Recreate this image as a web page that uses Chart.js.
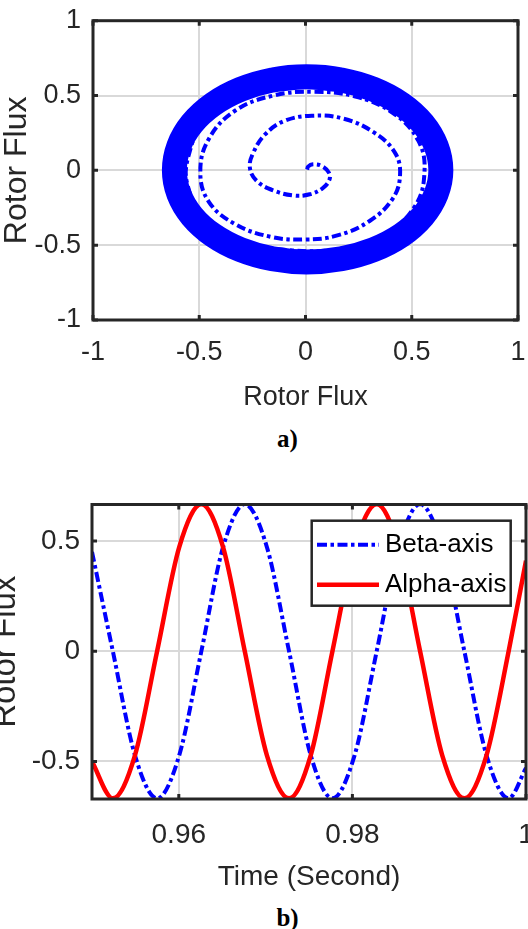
<!DOCTYPE html>
<html><head><meta charset="utf-8">
<script src="https://cdn.jsdelivr.net/npm/chart.js@4.4.1/dist/chart.umd.min.js"></script>
<style>
html,body{margin:0;padding:0;background:#fff;width:528px;height:929px;overflow:hidden;}
canvas{position:absolute;left:0;}
#c1{top:0;}
#c2{top:460px;}
.cap{position:absolute;left:237.5px;width:100px;text-align:center;font-weight:bold;font-size:25px;font-family:"Liberation Serif","Times New Roman",serif;line-height:25px;color:#000;}
</style></head><body>
<canvas id="c1" width="528" height="420"></canvas>
<canvas id="c2" width="528" height="440"></canvas>
<div class="cap" style="top:425.5px">a)</div>
<div class="cap" style="top:904.5px">b)</div>
<script>
// ---------- data (a): rotor flux locus ----------
const fluxTickValues = [-1, -0.5, 0, 0.5, 1];
const fluxTickLabels = ['-1', '-0.5', '0', '0.5', '1'];
// transient spiral (alpha, beta)
const spiralX = [0.008, 0.012, 0.035, 0.075, 0.110, 0.112, 0.080, 0.020, -0.055, -0.150, -0.230, -0.262, -0.245, -0.190, -0.100, 0.030, 0.180, 0.320, 0.420, 0.445, 0.410, 0.300, 0.150, 0.000, -0.160, -0.330, -0.455, -0.495, -0.455, -0.330, -0.150, 0.040, 0.230, 0.410, 0.530, 0.560, 0.515, 0.370, 0.160, -0.060, -0.280, -0.470, -0.555, -0.550, -0.470, -0.290, -0.080, 0.150];
const spiralY = [0.005, 0.025, 0.040, 0.030, -0.015, -0.065, -0.120, -0.160, -0.168, -0.135, -0.070, 0.020, 0.120, 0.240, 0.330, 0.365, 0.345, 0.255, 0.120, -0.030, -0.190, -0.340, -0.435, -0.462, -0.445, -0.360, -0.210, -0.010, 0.210, 0.400, 0.500, 0.525, 0.495, 0.385, 0.200, -0.010, -0.240, -0.430, -0.525, -0.535, -0.480, -0.320, -0.100, 0.100, 0.340, 0.500, 0.555, 0.550];
// steady-state orbit (dense band)
const orbitX = [-0.156, 0.005, 0.169, 0.321, 0.452, 0.552, 0.615, 0.637, 0.615, 0.552, 0.452, 0.321, 0.169, 0.005, -0.156, -0.306, -0.435, -0.534, -0.596, -0.617, -0.596, -0.534, -0.435, -0.306, -0.156, 0.005, 0.169];
const orbitY = [0.604, 0.625, 0.604, 0.541, 0.442, 0.313, 0.162, 0.000, -0.158, -0.306, -0.433, -0.530, -0.591, -0.612, -0.591, -0.530, -0.433, -0.306, -0.158, 0.000, 0.162, 0.313, 0.442, 0.541, 0.604, 0.625, 0.604];

// ---------- data (b): rotor flux vs time ----------
const timeSec = [0.95, 0.9524, 0.95495, 0.9575, 0.96005, 0.9626, 0.9651, 0.9676, 0.97015, 0.9727, 0.9752, 0.9777, 0.98025, 0.9828, 0.9853, 0.9878, 0.99035, 0.9929, 0.99545, 0.998, 1.0];
const betaFlux = [0.45, 0, -0.472, -0.667, -0.472, 0, 0.472, 0.667, 0.472, 0, -0.472, -0.667, -0.472, 0, 0.472, 0.667, 0.472, 0, -0.472, -0.667, -0.53];
const alphaFlux = [-0.50, -0.667, -0.472, 0, 0.472, 0.667, 0.472, 0, -0.472, -0.667, -0.472, 0, 0.472, 0.667, 0.472, 0, -0.472, -0.667, -0.472, 0, 0.41];
const timeTickValues = [0.96, 0.98, 1];
const timeTickLabels = ['0.96', '0.98', '1'];
const fluxTickValuesB = [-0.5, 0, 0.5];
const fluxTickLabelsB = ['-0.5', '0', '0.5'];
const seriesNames = ['Beta-axis', 'Alpha-axis'];
const axisTitleFlux = 'Rotor Flux';
const axisTitleTime = 'Time (Second)';

// ---------- helpers ----------
const pts = (xs, ys) => xs.map((x, i) => ({x: x, y: ys[i]}));
const INK = '#262626';
const SANS = "'Liberation Sans', Arial, sans-serif";
const BLUE = '#0000ff';
const RED = '#ff0000';
const DASHDOT = [10, 3.5, 3.5, 3.5];

const framePlugin = {
  id: 'frame',
  afterDatasetsDraw(chart, args, opts) {
    const {ctx, chartArea: a, scales} = chart;
    ctx.save();
    ctx.strokeStyle = INK;
    ctx.lineWidth = 3;
    ctx.lineCap = 'butt';
    ctx.setLineDash([]);
    const L = 5;
    ctx.beginPath();
    scales.x.ticks.forEach(t => {
      const p = scales.x.getPixelForValue(t.value);
      ctx.moveTo(p, a.bottom); ctx.lineTo(p, a.bottom - L);
      ctx.moveTo(p, a.top); ctx.lineTo(p, a.top + L);
    });
    scales.y.ticks.forEach(t => {
      const p = scales.y.getPixelForValue(t.value);
      ctx.moveTo(a.left, p); ctx.lineTo(a.left + L, p);
      ctx.moveTo(a.right, p); ctx.lineTo(a.right - L, p);
    });
    ctx.stroke();
    ctx.strokeRect(a.left, a.top, a.right - a.left, a.bottom - a.top);
    if (opts && opts.legendBox && chart.legend) {
      const lg = chart.legend;
      const b = opts.legendBox;
      ctx.fillStyle = '#fff';
      ctx.fillRect(lg.left, lg.top, b.w, b.h);
      ctx.lineWidth = 2.5;
      ctx.strokeStyle = INK;
      ctx.strokeRect(lg.left, lg.top, b.w, b.h);
      chart.data.datasets.forEach((ds, i) => {
        const y = lg.top + b.firstRow + i * b.rowGap;
        ctx.beginPath();
        ctx.strokeStyle = ds.borderColor;
        ctx.lineWidth = ds.borderWidth;
        ctx.setLineDash(ds.borderDash || []);
        ctx.moveTo(lg.left + b.x0, y);
        ctx.lineTo(lg.left + b.x1, y);
        ctx.stroke();
      });
    }
    ctx.restore();
  }
};

const legendPlace = {
  id: 'legendPlace',
  afterInit(chart) {
    const lg = chart.legend;
    if (lg) lg._layers = () => [{z: 10, draw: (ca) => lg.draw(ca)}];
  },
  afterLayout(chart, args, opts) {
    const lg = chart.legend;
    if (lg && opts && opts.left !== undefined) { lg.left = opts.left; lg.top = opts.top; }
  }
};

function makeScale(cfg) {
  return {
    type: 'linear',
    min: cfg.min, max: cfg.max,
    afterBuildTicks: s => { s.ticks = cfg.values.map(v => ({value: v})); },
    afterFit: s => {
      if (cfg.width !== undefined) s.width = cfg.width;
      if (cfg.height !== undefined) s.height = cfg.height;
      s.paddingLeft = 0; s.paddingRight = 0; s.paddingTop = 0; s.paddingBottom = 0;
    },
    grid: {color: '#d9d9d9', lineWidth: 2, drawTicks: false},
    border: {display: false},
    ticks: {
      padding: cfg.pad, color: INK, autoSkip: false, maxRotation: 0, minRotation: 0,
      font: {family: cfg.tickFamily, size: cfg.tickSize, lineHeight: 1},
      callback: (v, i) => cfg.labels[i]
    },
    title: {
      display: true, text: cfg.title, color: INK,
      font: {family: cfg.titleFamily, size: cfg.titleSize, lineHeight: 1},
      padding: cfg.titlePad
    }
  };
}

// ---------- chart (a) ----------
new Chart(document.getElementById('c1'), {
  type: 'scatter',
  data: {
    datasets: [
      {label: 'transient', data: pts(spiralX, spiralY), showLine: true, borderColor: BLUE, borderWidth: 4,
       borderDash: [9, 3.5, 3.5, 3.5], tension: 0.4, pointRadius: 0, fill: false},
      {label: 'steady', data: pts(orbitX, orbitY), showLine: true, borderColor: BLUE, borderWidth: 25,
       tension: 0.35, pointRadius: 0, fill: false}
    ]
  },
  options: {
    responsive: false, animation: false, devicePixelRatio: 1, events: [],
    layout: {padding: {left: 0, top: 20.7, right: 10, bottom: 8.5}},
    plugins: {legend: {display: false}, tooltip: {enabled: false}},
    scales: {
      x: makeScale({min: -1, max: 1, values: fluxTickValues, labels: fluxTickLabels, height: 91.5, pad: 19,
        tickFamily: SANS, tickSize: 27, title: axisTitleFlux, titleFamily: SANS, titleSize: 27,
        titlePad: {top: 0, bottom: 0}}),
      y: makeScale({min: -1, max: 1, values: fluxTickValues, labels: fluxTickLabels, width: 93, pad: 12,
        tickFamily: SANS, tickSize: 27, title: axisTitleFlux, titleFamily: SANS, titleSize: 32,
        titlePad: {top: 1, bottom: 0}})
    }
  },
  plugins: [framePlugin]
});

// ---------- chart (b) ----------
new Chart(document.getElementById('c2'), {
  type: 'line',
  data: {
    datasets: [
      {label: seriesNames[0], data: pts(timeSec, betaFlux), borderColor: BLUE, backgroundColor: BLUE, borderWidth: 4,
       borderDash: DASHDOT, cubicInterpolationMode: 'monotone', pointRadius: 0, fill: false, order: 1},
      {label: seriesNames[1], data: pts(timeSec, alphaFlux), borderColor: RED, backgroundColor: RED, borderWidth: 4.5,
       cubicInterpolationMode: 'monotone', pointRadius: 0, fill: false, order: 0}
    ]
  },
  options: {
    responsive: false, animation: false, devicePixelRatio: 1, events: [],
    layout: {padding: {left: 0, top: 44.5, right: 2, bottom: 8.5}},
    plugins: {
      tooltip: {enabled: false},
      legend: {
        display: true, position: 'chartArea', align: 'start',
        labels: {
          color: '#000', boxWidth: 52.3, boxHeight: 32, padding: 8,
          font: {family: SANS, size: 26, lineHeight: 1},
          generateLabels(chart) {
            const items = Chart.defaults.plugins.legend.labels.generateLabels(chart);
            items.forEach(it => { it.fillStyle = 'rgba(0,0,0,0)'; it.strokeStyle = 'rgba(0,0,0,0)'; it.lineWidth = 0; it.lineDash = []; });
            items.sort((p, q) => p.datasetIndex - q.datasetIndex);
            return items;
          }
        }
      },
      legendPlace: {left: 311.7, top: 60.7},
      frame: {legendBox: {w: 199, h: 85, firstRow: 24, rowGap: 40, x0: 5.3, x1: 67.3}}
    },
    scales: {
      x: makeScale({min: 0.95, max: 1.0, values: timeTickValues, labels: timeTickLabels, height: 92.5, pad: 22,
        tickFamily: SANS, tickSize: 28, title: axisTitleTime, titleFamily: SANS, titleSize: 28,
        titlePad: {top: 0, bottom: 0}}),
      y: makeScale({min: -0.67, max: 0.665, values: fluxTickValuesB, labels: fluxTickLabelsB, width: 92, pad: 12,
        tickFamily: SANS, tickSize: 28, title: axisTitleFlux, titleFamily: SANS, titleSize: 33,
        titlePad: {top: -11, bottom: 0}})
    }
  },
  plugins: [framePlugin, legendPlace]
});
</script>
</body></html>
